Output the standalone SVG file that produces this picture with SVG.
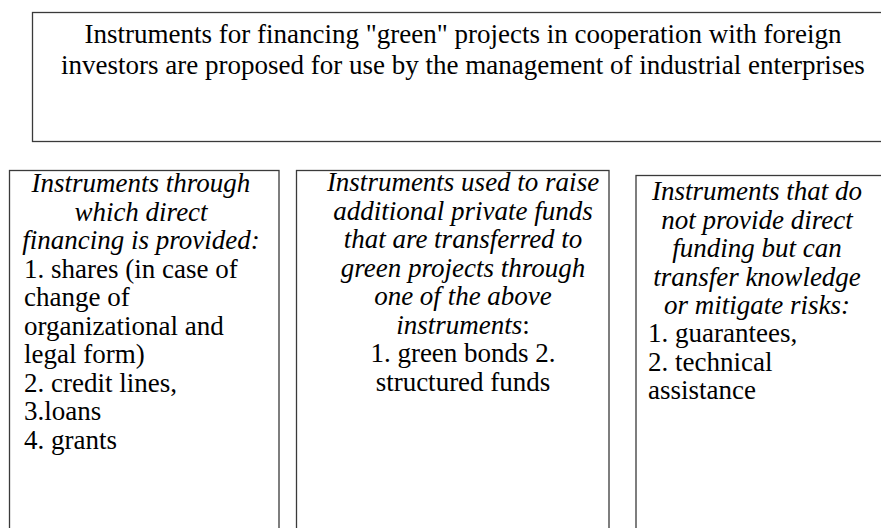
<svg xmlns="http://www.w3.org/2000/svg" width="881" height="528" viewBox="0 0 881 528">
<style>
.box{fill:#fff;stroke:#3a3a3a;stroke-width:1.3}
text{font-family:"Liberation Serif","Times New Roman",serif;font-size:27px;fill:#000}
.it{font-style:italic}
.c{text-anchor:middle}
</style>
<rect width="881" height="528" fill="#fff"/>
<g id="top">
<rect class="box" x="32.5" y="12.5" width="860" height="129"/>
<text class="c" x="463" y="43">Instruments for financing "green" projects in cooperation with foreign</text>
<text class="c" x="463" y="73.5">investors are proposed for use by the management of industrial enterprises</text>
</g>
<g id="direct">
<rect class="box" x="9.5" y="170.5" width="269.5" height="370"/>
<text class="it c" x="141" y="192">Instruments through</text>
<text class="it c" x="141" y="220.5">which direct</text>
<text class="it c" x="141" y="249">financing is provided:</text>
<text x="24" y="277.5">1. shares (in case of</text>
<text x="24" y="306">change of</text>
<text x="24" y="334.5">organizational and</text>
<text x="24" y="363">legal form)</text>
<text x="24" y="391.5">2. credit lines,</text>
<text x="24" y="420">3.loans</text>
<text x="24" y="448.5">4. grants</text>
</g>
<g id="private">
<rect class="box" x="296.5" y="170.5" width="312.5" height="370"/>
<text class="it c" x="463" y="191">Instruments used to raise</text>
<text class="it c" x="463" y="219.5">additional private funds</text>
<text class="it c" x="463" y="248">that are transferred to</text>
<text class="it c" x="463" y="276.5">green projects through</text>
<text class="it c" x="463" y="305">one of the above</text>
<text class="c" x="463" y="333.5"><tspan class="it">instruments</tspan>:</text>
<text class="c" x="463" y="362">1. green bonds 2.</text>
<text class="c" x="463" y="390.5">structured funds</text>
</g>
<g id="indirect">
<rect class="box" x="636" y="175.5" width="260" height="370"/>
<text class="it c" x="757" y="200">Instruments that do</text>
<text class="it c" x="757" y="228.5">not provide direct</text>
<text class="it c" x="757" y="257">funding but can</text>
<text class="it c" x="757" y="285.5">transfer knowledge</text>
<text class="it c" x="757" y="314">or mitigate risks:</text>
<text x="648" y="342">1. guarantees,</text>
<text x="648" y="370.5">2. technical</text>
<text x="648" y="399">assistance</text>
</g>
<g id="connectors"/>
</svg>
